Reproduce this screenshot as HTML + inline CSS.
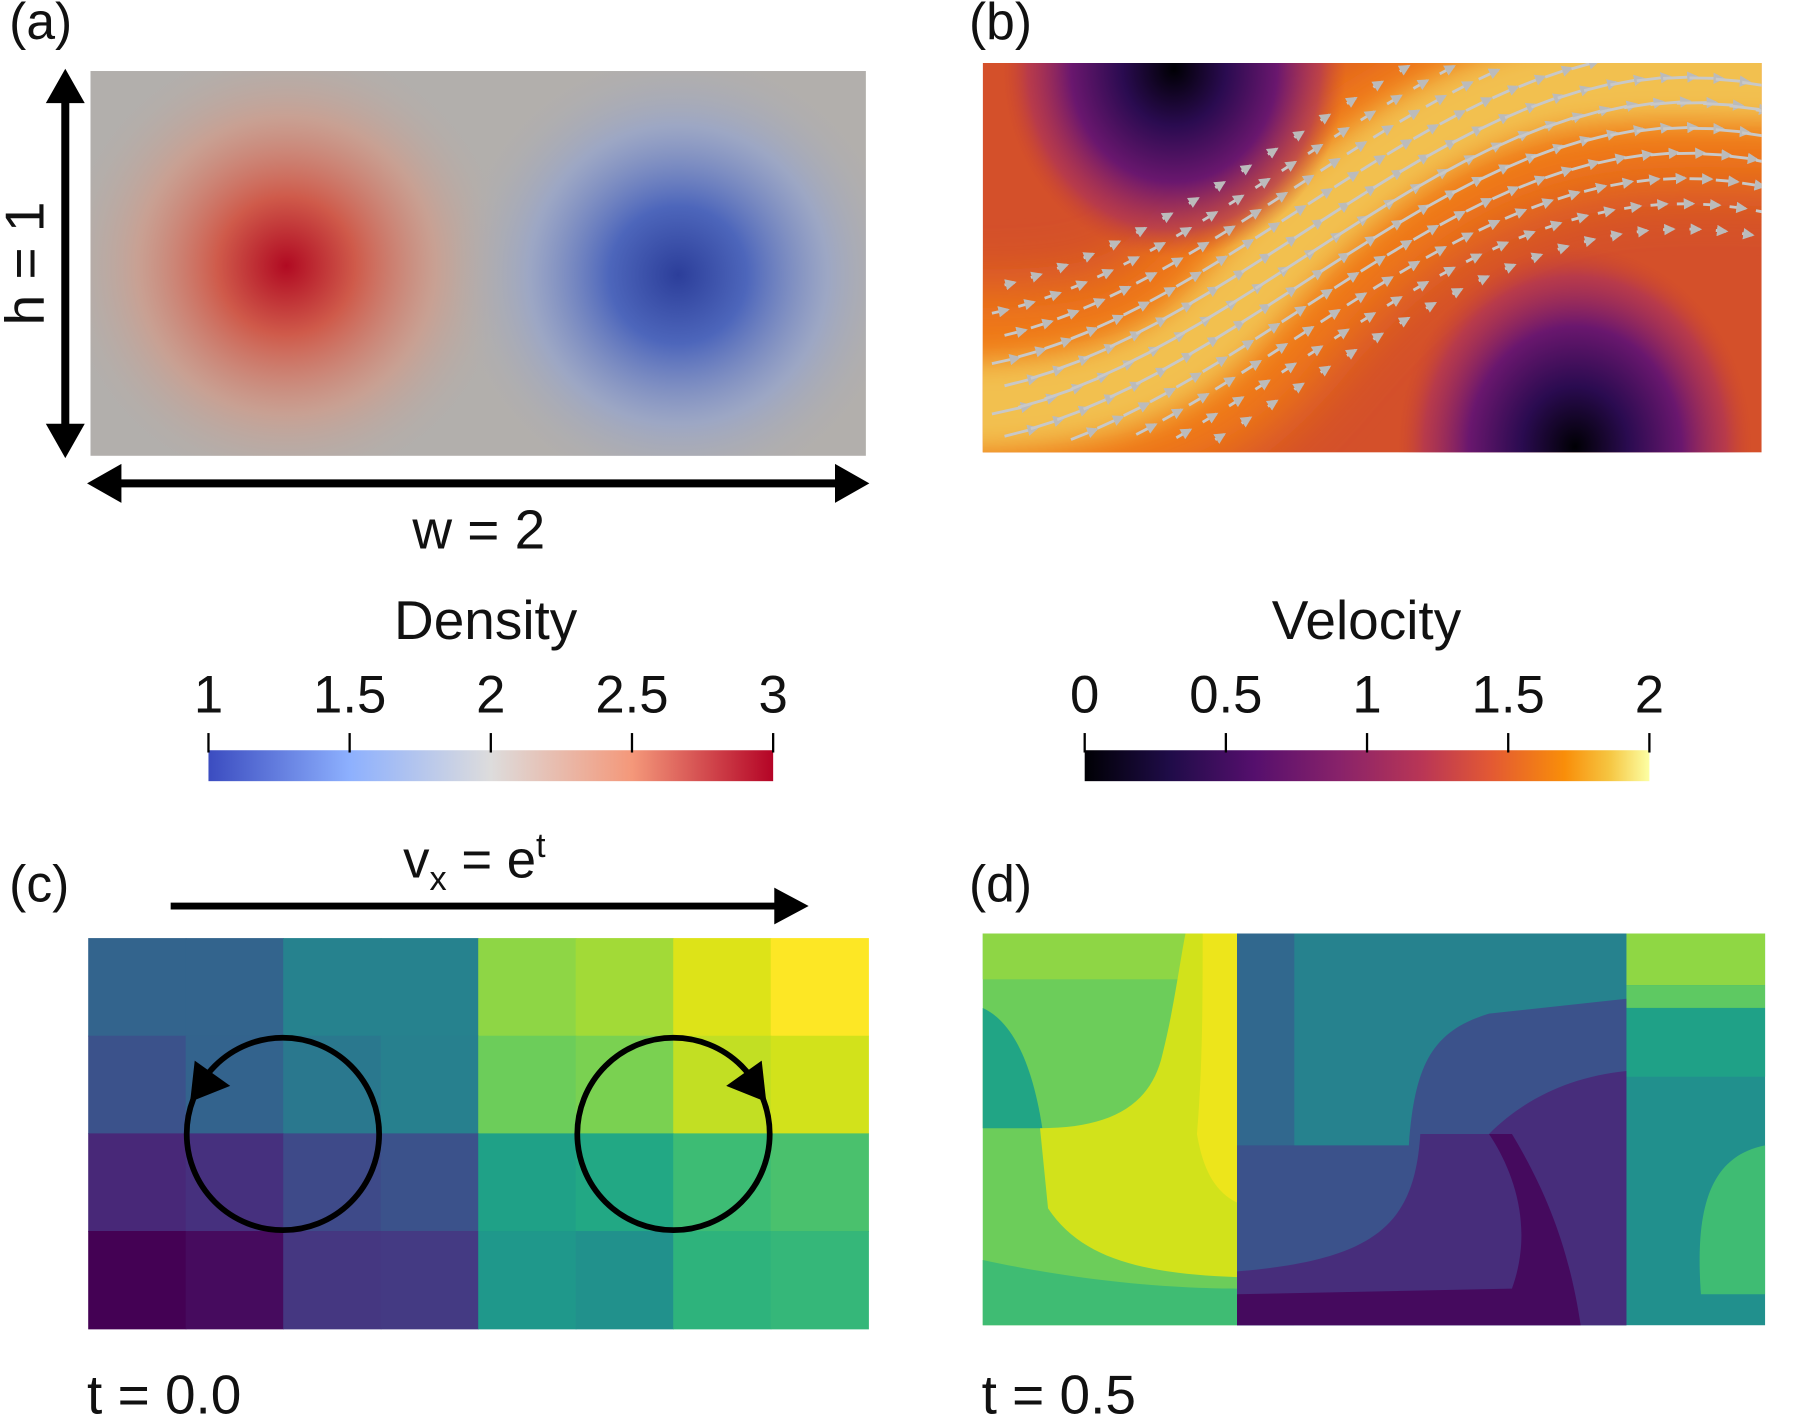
<!DOCTYPE html>
<html><head><meta charset="utf-8"><style>
html,body{margin:0;padding:0;background:#fff}
svg{display:block}
text{font-family:"Liberation Sans",sans-serif;fill:#111}
</style></head><body>
<svg id="fig" width="1796" height="1414" viewBox="0 0 1568 1234.5" xmlns="http://www.w3.org/2000/svg">
<defs>
<radialGradient id="gRed" cx="0.5" cy="0.5" r="0.5"><stop offset="0" stop-color="#b10a22"/><stop offset="0.3" stop-color="#cf5a4a"/><stop offset="0.65" stop-color="#d29a88" stop-opacity="0.7"/><stop offset="1" stop-color="#b3afac" stop-opacity="0"/></radialGradient>
<radialGradient id="gBlue" cx="0.5" cy="0.5" r="0.5"><stop offset="0" stop-color="#2c3e9a"/><stop offset="0.3" stop-color="#4d66bb"/><stop offset="0.65" stop-color="#93a3cf" stop-opacity="0.7"/><stop offset="1" stop-color="#b3afac" stop-opacity="0"/></radialGradient>
<linearGradient id="gCool" x1="0" x2="1"><stop offset="0" stop-color="#3b4cc0"/><stop offset="0.25" stop-color="#8db0fe"/><stop offset="0.5" stop-color="#dddcdc"/><stop offset="0.75" stop-color="#f4987a"/><stop offset="1" stop-color="#b40426"/></linearGradient>
<linearGradient id="gInf" x1="0" x2="1"><stop offset="0" stop-color="#000004"/><stop offset="0.15" stop-color="#1f0c48"/><stop offset="0.3" stop-color="#550f6d"/><stop offset="0.45" stop-color="#88226a"/><stop offset="0.6" stop-color="#ba3655"/><stop offset="0.72" stop-color="#e35933"/><stop offset="0.85" stop-color="#f98e09"/><stop offset="0.93" stop-color="#f6c642"/><stop offset="1" stop-color="#fcffa4"/></linearGradient>
<radialGradient id="gDark" cx="0.5" cy="0.5" r="0.5"><stop offset="0" stop-color="#000004"/><stop offset="0.3" stop-color="#2a0b50"/><stop offset="0.6" stop-color="#6a176e"/><stop offset="0.85" stop-color="#a52c60" stop-opacity="0.6"/><stop offset="1" stop-color="#c8402f" stop-opacity="0"/></radialGradient>
<filter id="blur" x="-50%" y="-50%" width="200%" height="200%"><feGaussianBlur stdDeviation="25"/></filter>
<filter id="blur2" x="-50%" y="-50%" width="200%" height="200%"><feGaussianBlur stdDeviation="12"/></filter>
<clipPath id="clipA"><rect x="79" y="62" width="677" height="336"/></clipPath>
<clipPath id="clipB"><rect x="858" y="55" width="680" height="340"/></clipPath>
<marker id="ah" viewBox="0 0 10 10" refX="8" refY="5" markerWidth="4" markerHeight="4" orient="auto"><path d="M0,0 L10,5 L0,10 Z" fill="#bbb"/></marker>
</defs>

<g>
<text x="8" y="34" font-size="45">(a)</text>
<g clip-path="url(#clipA)">
<rect x="79" y="62" width="677" height="336" fill="#b2afac"/>
<ellipse cx="250" cy="232" rx="200" ry="200" fill="url(#gRed)"/>
<ellipse cx="592" cy="240" rx="200" ry="200" fill="url(#gBlue)"/>
</g>
<g><line x1="57" y1="85" x2="57" y2="375" stroke="#000" stroke-width="7"/><path d="M40,90 L57,60 L74,90 Z M40,370 L57,400 L74,370 Z" fill="#000"/></g>
<text transform="translate(38,230) rotate(-90)" font-size="48" text-anchor="middle">h = 1</text>
<g><line x1="100" y1="422" x2="735" y2="422" stroke="#000" stroke-width="7"/><path d="M106,405 L76,422 L106,439 Z M729,405 L759,422 L729,439 Z" fill="#000"/></g>
<text x="418" y="479" font-size="48" text-anchor="middle">w = 2</text>
</g>

<g>
<text x="846" y="34" font-size="45">(b)</text>
<g clip-path="url(#clipB)">
<rect x="858" y="55" width="680" height="340" fill="#d4502a"/>
<path d="M700,340 C960,360 1020,340 1080,270 C1160,170 1240,110 1350,80 C1440,60 1500,70 1700,70" fill="none" stroke="#f07a18" stroke-width="190" filter="url(#blur)"/>
<path d="M700,350 C960,370 1020,330 1080,265 C1160,170 1240,100 1350,75 C1440,60 1500,70 1700,70" fill="none" stroke="#f2c050" stroke-width="80" filter="url(#blur2)"/>
<ellipse cx="1025" cy="60" rx="150" ry="165" fill="url(#gDark)"/>
<ellipse cx="1375" cy="390" rx="155" ry="175" fill="url(#gDark)"/>
<g id="arrows"></g>
</g>
</g>

<g>
<text x="424" y="558" font-size="48" text-anchor="middle">Density</text>
<rect x="182" y="655" width="493" height="27" fill="url(#gCool)"/>
<g id="dticks"></g>
</g>
<g>
<text x="1193" y="558" font-size="48" text-anchor="middle">Velocity</text>
<rect x="947" y="655" width="493" height="27" fill="url(#gInf)"/>
<g id="vticks"></g>
</g>

<g>
<text x="8" y="787" font-size="45">(c)</text>
<text x="352" y="766" font-size="46">v<tspan font-size="30" dy="11">x</tspan><tspan dy="-11"> = e</tspan><tspan font-size="30" dy="-18">t</tspan></text>
<g><line x1="149" y1="791" x2="680" y2="791" stroke="#000" stroke-width="6"/><path d="M676,775 L706,791 L676,807 Z" fill="#000"/></g>
<g id="grid"></g>
<g><circle cx="247" cy="990" r="84" fill="none" stroke="#000" stroke-width="5"/><path d="M166,962 L170,926 L201,948 Z" fill="#000"/></g>
<g><circle cx="588" cy="990" r="84" fill="none" stroke="#000" stroke-width="5"/><path d="M669,962 L665,926 L634,948 Z" fill="#000"/></g>
<text x="76" y="1234" font-size="48">t = 0.0</text>
</g>

<g>
<text x="846" y="787" font-size="45">(d)</text>
<g>
<rect x="858" y="815" width="222" height="342" fill="#6ccd5a"/>
<rect x="858" y="815" width="222" height="40" fill="#8ed645"/>
<path d="M858,880 C880,890 900,920 910,985 L858,985 Z" fill="#21a585"/>
<path d="M1035,815 L1080,815 L1080,1115 C1000,1112 945,1100 915,1055 L908,985 C970,985 1005,965 1015,920 C1025,880 1030,840 1035,815 Z" fill="#d2e21b"/>
<path d="M1050,815 L1080,815 L1080,1050 C1060,1040 1050,1020 1045,990 C1050,930 1050,870 1050,815 Z" fill="#ede51b"/>
<path d="M858,1100 C950,1120 1030,1125 1080,1125 L1080,1157 L858,1157 Z" fill="#3fbc73"/>
<rect x="1080" y="815" width="340" height="342" fill="#26828e"/>
<rect x="1080" y="815" width="50" height="342" fill="#31688e"/>
<path d="M1080,1000 L1230,1000 C1235,930 1250,900 1300,885 L1420,872 L1420,1157 L1080,1157 Z" fill="#3b528b"/>
<path d="M1080,1110 C1200,1100 1235,1070 1240,990 L1300,990 C1330,960 1370,940 1420,935 L1420,1157 L1080,1157 Z" fill="#472d7b"/>
<path d="M1080,1130 L1320,1125 C1340,1070 1320,1020 1300,990 L1320,990 C1350,1040 1370,1090 1380,1157 L1080,1157 Z" fill="#450a5e"/>
<rect x="1420" y="815" width="121" height="342" fill="#21908d"/>
<rect x="1420" y="815" width="121" height="45" fill="#8fd744"/>
<rect x="1420" y="860" width="121" height="20" fill="#5ec962"/>
<rect x="1420" y="880" width="121" height="60" fill="#1fa187"/>
<path d="M1541,1000 C1490,1010 1480,1060 1485,1130 L1541,1130 Z" fill="#3fbc73"/>
</g>
<text x="857" y="1234" font-size="48">t = 0.5</text>
</g>
</svg>
<script>
const NS="http://www.w3.org/2000/svg";
const densityTicks=[1,1.5,2,2.5,3];
const velocityTicks=[0,0.5,1,1.5,2];
const gridCols=8, gridRows=4;
const gridRow0=["#33648d","#33648d","#26828e","#26828e","#8ed645","#a2da37","#dde318","#fde725"];
const gridRow1=["#3b528b","#33638d","#2a788e","#27808e","#6ccd5a","#7ad151","#c2df23","#d2e21b"];
const gridRow2=["#482878","#46307e","#3e4a89","#3b528b","#1fa187","#22a884","#3dbc74","#4ac16d"];
const gridRow3=["#440154","#460b5e","#453781","#443a83","#1f988b","#21918c","#2eb37c","#35b779"];
function mk(t,a,p){const e=document.createElementNS(NS,t);for(const k in a)e.setAttribute(k,a[k]);p.appendChild(e);return e;}
function ticks(id,vals,x0,x1,lo,hi,nm){
  const g=document.getElementById(id);
  vals.forEach(v=>{const x=x0+(v-lo)/(hi-lo)*(x1-x0);
    const l=mk('line',{x1:x,x2:x,y1:640,y2:657,stroke:'#000','stroke-width':2},g);
    
    
    const t=mk('text',{x:x,y:622,'font-size':46,'text-anchor':'middle'},g);t.textContent=String(v);
    
    
  });
}
ticks('dticks',densityTicks,182,675,1,3,'density');
ticks('vticks',velocityTicks,947,1440,0,2,'velocity');
const rows=[gridRow0,gridRow1,gridRow2,gridRow3];
const G=document.getElementById('grid');const gx=77,gy=819,gw=681,gh=341;
rows.forEach((r,ri)=>r.forEach((c,ci)=>{
  const e=mk('rect',{x:gx+ci*gw/gridCols,y:gy+ri*gh/gridRows,width:gw/gridCols+0.6,height:gh/gridRows+0.6,fill:c},G);
  
  
}));
const A=document.getElementById('arrows');
for(let i=0;i<30;i++)for(let j=0;j<13;j++){
  const x=866+i*23+(j%2)*11, yc=230-140*Math.sin((x-1130)/680*Math.PI);
  const y=yc+(j-6)*22;
  if(y<60||y>390)continue;
  const d=Math.abs(j-6);if(d>5)continue;
  const s=-140*Math.cos((x-1130)/680*Math.PI)*Math.PI/680;
  const L=34-d*5;const n=Math.hypot(1,s);
  const e=mk('line',{x1:x,y1:y,x2:x+L/n,y2:y+L*s/n,stroke:'#c8c8c8','stroke-width':2.5,'marker-end':'url(#ah)'},A);
  
  
}
</script>
</body></html>
